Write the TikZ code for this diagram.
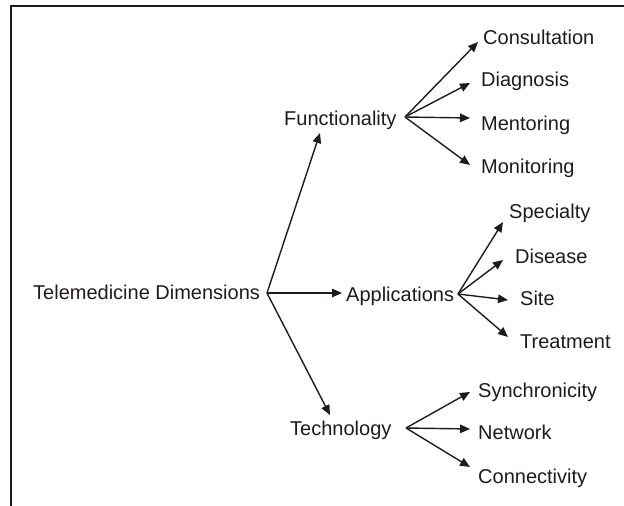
\documentclass[tikz,border=0pt]{standalone}
\usepackage{fontspec}
\setmainfont{Liberation Sans}
\usetikzlibrary{arrows.meta,calc}
\definecolor{ink}{HTML}{1E1B1C}
\begin{document}
\begin{tikzpicture}[x=1pt,y=-1pt,
  lbl/.style={anchor=base west,inner sep=0pt,text=ink,font=\fontsize{20}{24}\selectfont},
  arr/.style={draw=ink,line width=1.4pt,-{Triangle[length=10pt,width=8.5pt]}}]
\useasboundingbox (0,0) rectangle (624,506);
\draw[ink,line width=2pt] (624,6) -- (11,6) -- (11,506);
% level 0 and 1
\node[lbl] (root) at (33,299) {Telemedicine Dimensions};
\node[lbl] (func) at (284,125) {Functionality};
\node[lbl] (appl) at (346,301) {Applications};
\node[lbl] (tech) at (290,435) {Technology};
% level 2
\node[lbl] (cons) at (483,44) {Consultation};
\node[lbl] (diag) at (481,86) {Diagnosis};
\node[lbl] (ment) at (481,130) {Mentoring};
\node[lbl] (moni) at (481,173) {Monitoring};
\node[lbl] (spec) at (509,218) {Specialty};
\node[lbl] (dise) at (515,263) {Disease};
\node[lbl] (site) at (520,305) {Site};
\node[lbl] (treat) at (520,348) {Treatment};
\node[lbl] (sync) at (478,397) {Synchronicity};
\node[lbl] (netw) at (478,439) {Network};
\node[lbl] (conn) at (478,483) {Connectivity};
% branch points
\coordinate (rb) at (267,293);
\coordinate (fb) at (405,117);
\coordinate (ab) at (458,294);
\coordinate (tb) at (406,428);
% connectors
\draw[arr] (rb) -- ($(func.base west)+(36,8)$);
\draw[arr] (rb) -- ($(appl.base west)+(-4,-8)$);
\draw[arr] (rb) -- ($(tech.base west)+(40,-20)$);
\draw[arr] (fb) -- ($(cons.base west)+(-5,-2)$);
\draw[arr] (fb) -- ($(diag.base west)+(-11,-3)$);
\draw[arr] (fb) -- ($(ment.base west)+(-11,-12)$);
\draw[arr] (fb) -- ($(moni.base west)+(-11,-8)$);
\draw[arr] (ab) -- ($(spec.base west)+(-6,4)$);
\draw[arr] (ab) -- ($(dise.base west)+(-12,-3)$);
\draw[arr] (ab) -- ($(site.base west)+(-12,-5)$);
\draw[arr] (ab) -- ($(treat.base west)+(-12,-11)$);
\draw[arr] (tb) -- ($(sync.base west)+(-8,-5)$);
\draw[arr] (tb) -- ($(netw.base west)+(-8,-10)$);
\draw[arr] (tb) -- ($(conn.base west)+(-8,-16)$);
\end{tikzpicture}
\end{document}
